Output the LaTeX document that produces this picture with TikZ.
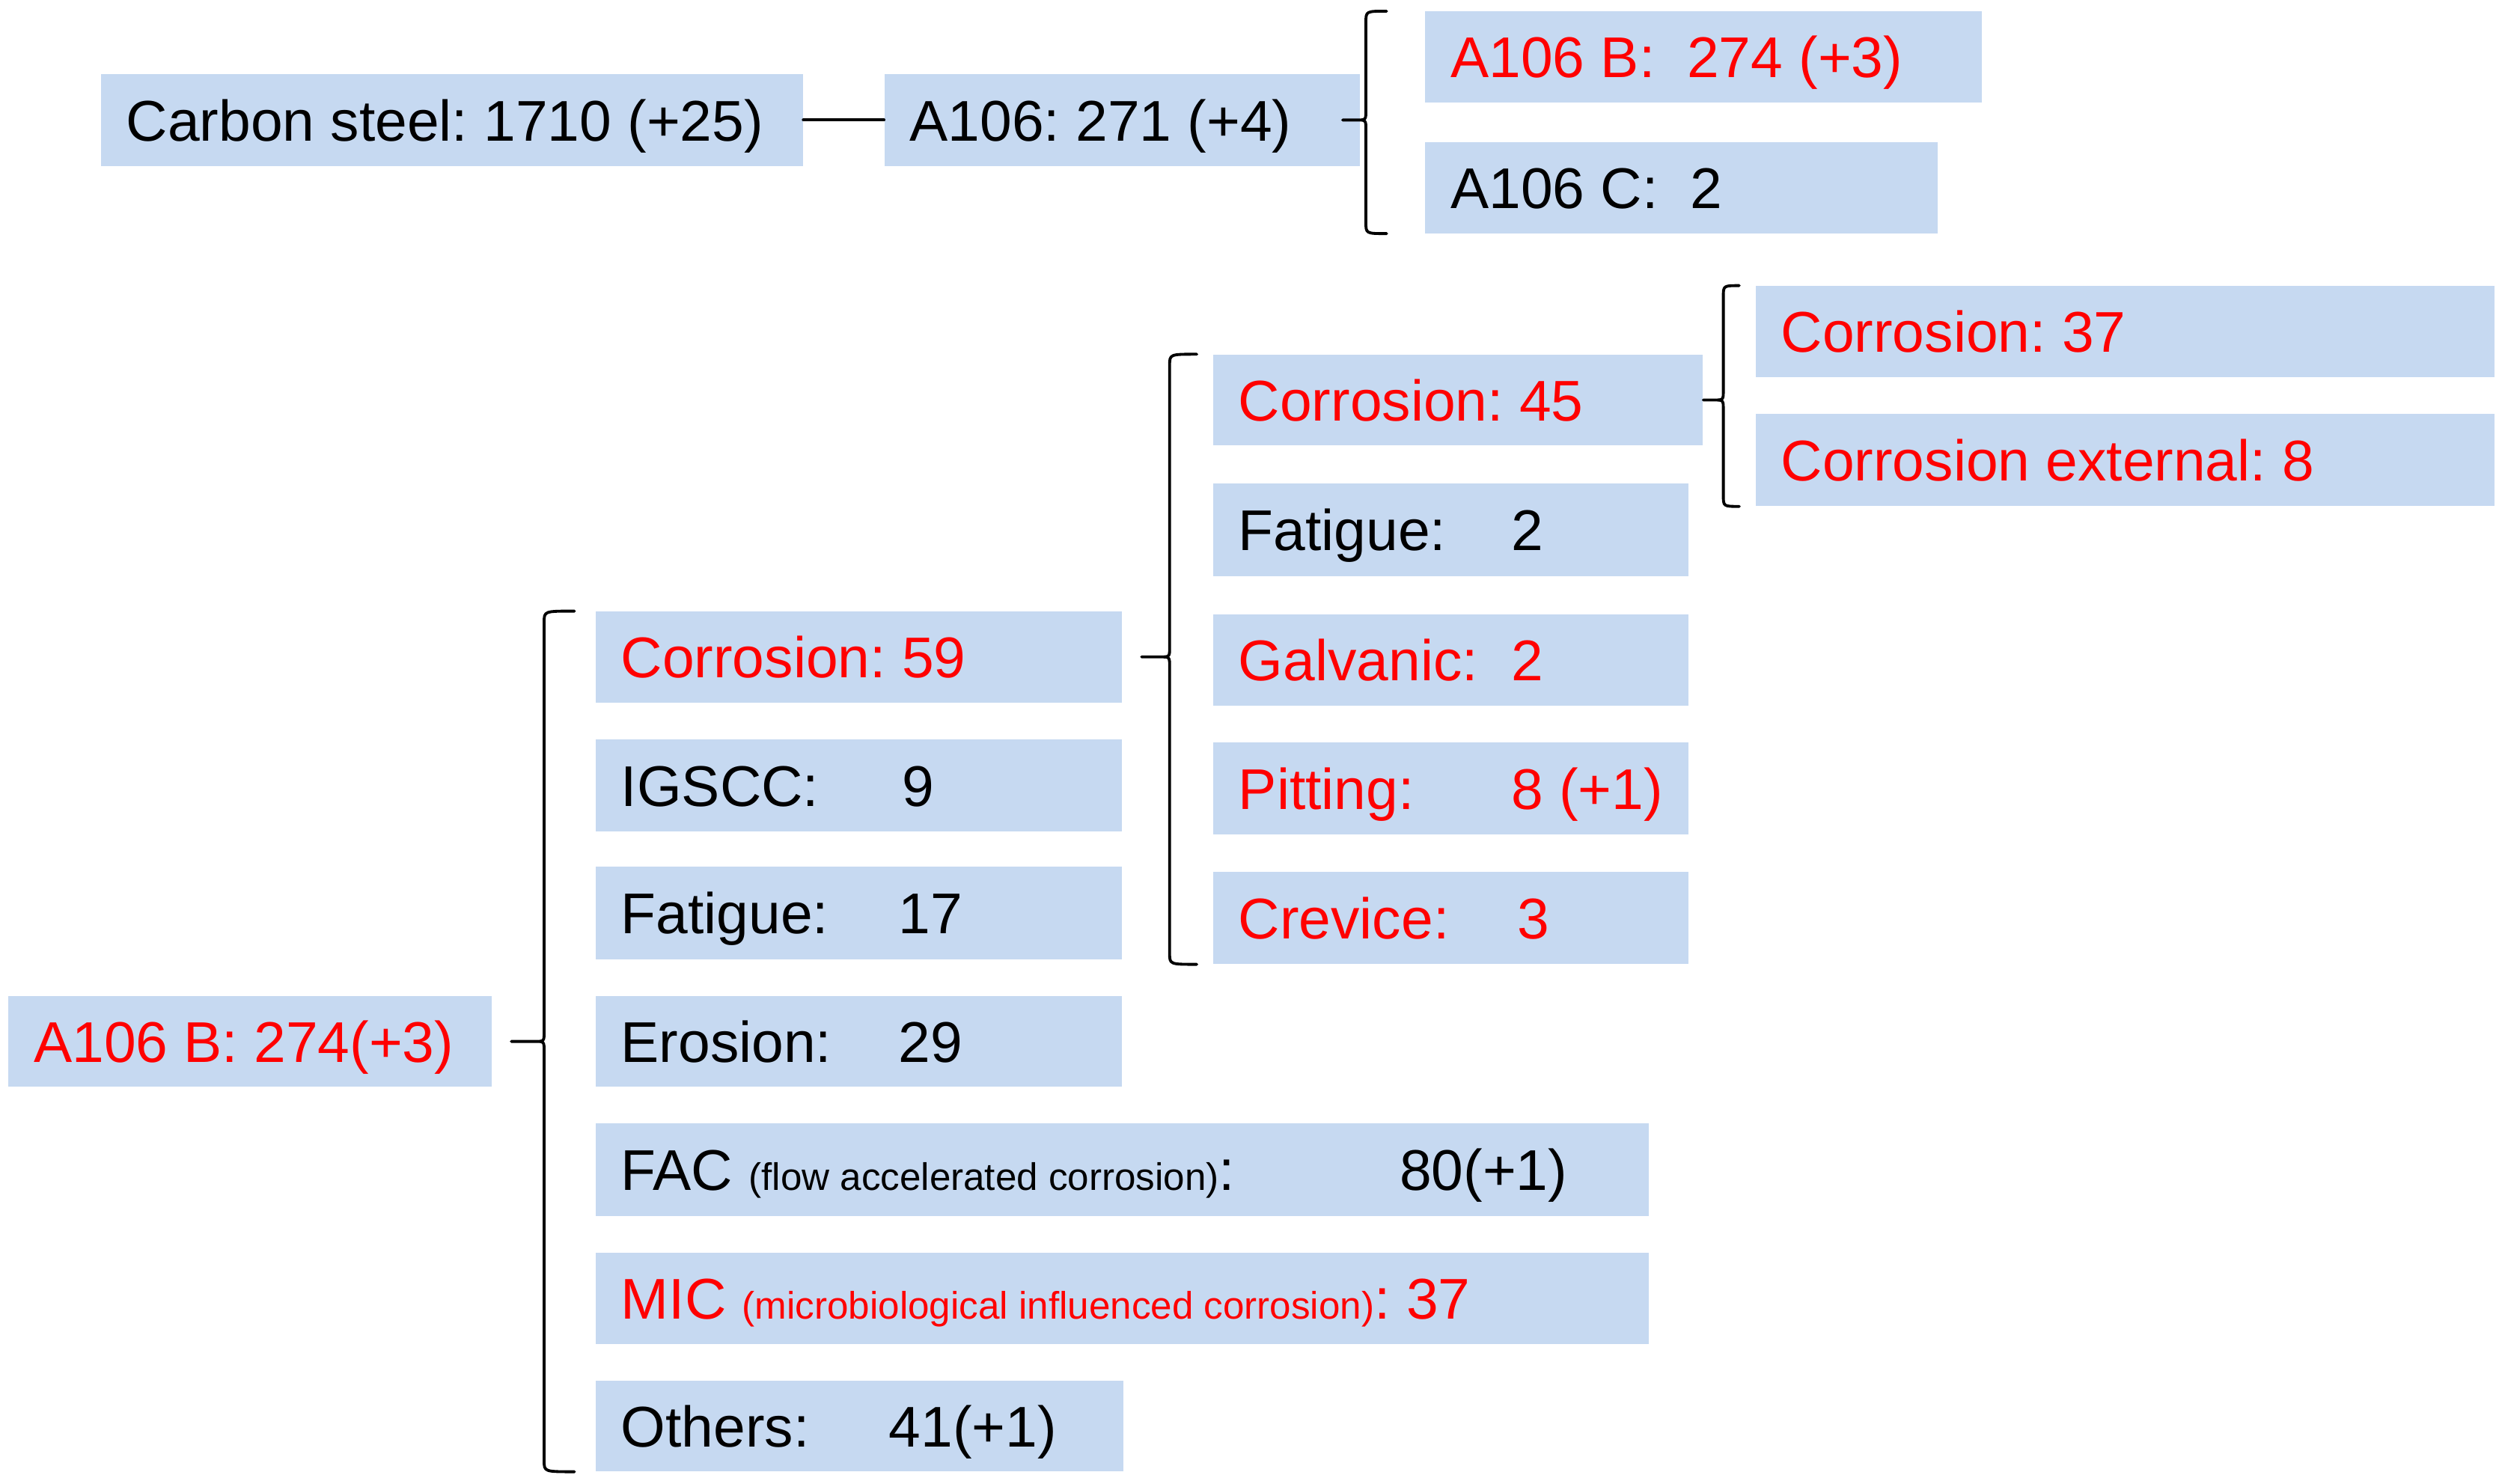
\documentclass[tikz,border=0pt]{standalone}
\usepackage{fontspec}
\setmainfont{Liberation Sans}
\usetikzlibrary{calc}
\definecolor{boxblue}{HTML}{C6D9F1}
\definecolor{redtxt}{HTML}{FF0000}
\frenchspacing
\newcommand{\sm}{\fontsize{24}{28}\selectfont}
% box: name, x0, y0, x1, y1 (in reference pixels, y downward), text colour, text
\newcommand{\bx}[7]{%
  \pgfmathsetmacro{\bxw}{#4-#2-32}%
  \pgfmathsetmacro{\bxh}{#5-#3}%
  \node[box, text=#6, minimum height=\bxh pt] (#1) at (#2,-#3)
    {\makebox[\bxw pt][l]{#7}};}
% bracket connector: parent, top child, bottom child, tip dx from parent east,
% spine offset from child west, end offset from child west
\newcommand{\bconn}[6]{%
  \draw[conn] let \p1=(#1.east), \p2=(#2.north west), \p3=(#3.south west),
      \n1={\x2-#5}, \n2={\x2-#6}, \n3={\x1+#4} in
    (\n2,\y2) .. controls (\n1,\y2) .. (\n1,\y2-7) -- (\n1,\y1+6)
      .. controls (\n1,\y1) .. (\n1-6,\y1) -- (\n3,\y1)
    (\n1-6,\y1) .. controls (\n1,\y1) .. (\n1,\y1-6) -- (\n1,\y3+7)
      .. controls (\n1,\y3) .. (\n2,\y3);}
\tikzset{
  box/.style={fill=boxblue, draw=none, anchor=north west, inner xsep=16pt,
    inner ysep=0pt, text height=26pt, text depth=0pt,
    font=\fontsize{36}{43}\selectfont},
  conn/.style={draw=black, line width=1.8pt, line cap=round, line join=round}
}
\begin{document}
\begin{tikzpicture}[x=1pt,y=1pt]
\useasboundingbox (0,0) rectangle (1568,-930);
\bx{carbon}{63}{46}{503}{104}{black}{Carbon steel: 1710 (+25)}
\bx{a106}{554}{46}{852}{104}{black}{A106: 271 (+4)}
\bx{a106bt}{893}{7}{1242}{64}{redtxt}{A106 B:\ \ 274 (+3)}
\bx{a106c}{893}{89}{1214}{146}{black}{A106 C:\ \ 2}
\bx{cA}{1100}{179}{1563}{236}{redtxt}{Corrosion: 37}
\bx{cB}{1100}{259}{1563}{317}{redtxt}{Corrosion external: 8}
\bx{c45}{760}{222}{1067}{279}{redtxt}{Corrosion: 45}
\bx{fat2}{760}{303}{1058}{361}{black}{\makebox[171pt][l]{Fatigue:}2}
\bx{galv}{760}{385}{1058}{442}{redtxt}{\makebox[171pt][l]{Galvanic:}2}
\bx{pit}{760}{465}{1058}{523}{redtxt}{\makebox[171pt][l]{Pitting:}8 (+1)}
\bx{crev}{760}{546}{1058}{604}{redtxt}{\makebox[175pt][l]{Crevice:}3}
\bx{c59}{373}{383}{703}{440}{redtxt}{Corrosion: 59}
\bx{igscc}{373}{463}{703}{521}{black}{\makebox[176pt][l]{IGSCC:}9}
\bx{fat17}{373}{543}{703}{601}{black}{\makebox[174pt][l]{Fatigue:}17}
\bx{eros}{373}{624}{703}{681}{black}{\makebox[174pt][l]{Erosion:}29}
\bx{fac}{373}{704}{1033}{762}{black}{\makebox[488pt][l]{FAC {\sm (flow accelerated corrosion)}:}80(+1)}
\bx{mic}{373}{785}{1033}{842}{redtxt}{MIC {\sm (microbiological influenced corrosion)}: 37}
\bx{oth}{373}{865}{704}{922}{black}{\makebox[168pt][l]{Others:}41(+1)}
\bx{a106b}{5}{624}{308}{681}{redtxt}{A106 B: 274(+3)}
\draw[conn] (carbon.east) -- (a106.west);
\bconn{a106}{a106bt}{a106c}{-11}{37}{24}
\bconn{c45}{cA}{cB}{0}{20}{10}
\bconn{c59}{c45}{crev}{12}{27}{10}
\bconn{a106b}{c59}{oth}{12}{32}{13}
\end{tikzpicture}
\end{document}
